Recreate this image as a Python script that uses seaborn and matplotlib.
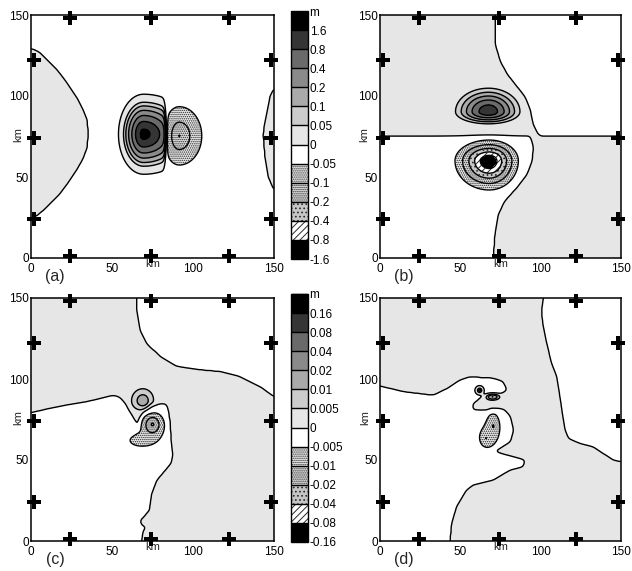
import numpy as np
import pandas as pd
import matplotlib
matplotlib.use("Agg")
import matplotlib.pyplot as plt
import seaborn as sns
from matplotlib.path import Path

# ---------------- data (km, m) ----------------
levels_top = [-1.6, -0.8, -0.4, -0.2, -0.1, -0.05, 0, 0.05, 0.1, 0.2, 0.4, 0.8, 1.6, 3.2]
labels_top = ['-1.6', '-0.8', '-0.4', '-0.2', '-0.1', '-0.05', '0', '0.05', '0.1', '0.2', '0.4', '0.8', '1.6', 'm']
levels_bot = [-0.16, -0.08, -0.04, -0.02, -0.01, -0.005, 0, 0.005, 0.01, 0.02, 0.04, 0.08, 0.16, 0.32]
labels_bot = ['-0.16', '-0.08', '-0.04', '-0.02', '-0.01', '-0.005', '0', '0.005', '0.01', '0.02', '0.04', '0.08', '0.16', 'm']

cell_colors = ['#000000', '#ffffff', '#c6c6c6', '#e0e0e0', '#ebebeb', '#ffffff',
               '#e6e6e6', '#cccccc', '#aaaaaa', '#8a8a8a', '#6a6a6a', '#353535', '#000000']
cell_hatches = [None, '/////', '....', '........', '........', None,
                None, None, None, None, None, None, None]

axis_ticks = [0, 50, 100, 150]
marker_pos = [24, 74, 122]
panel_labels = ['(a)', '(b)', '(c)', '(d)']

# background sign regions (vertices in km)
a_gray_left = [(-5, 129.4), (0, 129.4), (5.5, 127), (11.5, 121), (17.9, 114), (23, 107), (28, 99.5),
               (32, 92), (34.8, 85), (35.2, 77), (34.8, 68.6), (32, 61), (28, 54), (23, 46.5),
               (17.9, 39.8), (12.5, 34), (7.6, 29.5), (3.5, 26), (0, 24.3), (-5, 24.3)]
a_gray_right = [(155, 104.7), (150, 104.7), (147.5, 99.5), (145.5, 89), (143.6, 80), (143.4, 74.8),
                (144.4, 62.4), (146.5, 50), (150, 41.8), (155, 41.8)]
b_gray_topleft = [(-5, 155), (71.6, 155), (71.6, 132.5), (74.7, 122), (78.8, 114), (85, 106), (90, 99.5),
                  (93.4, 91), (95.4, 82.6), (98.5, 76.4), (100, 75.2), (-5, 75.2)]
b_gray_botright = [(93.4, 75.2), (155, 75.2), (155, -5), (70.5, -5), (70.5, 0), (71.6, 15), (73.7, 27.4),
                   (77.8, 35.6), (85, 44), (91.3, 52), (94.4, 60), (95.4, 68.6)]
c_white_topright = [(65.2, 155), (65.2, 142.8), (67.3, 130.4), (71.4, 122), (79.6, 114), (90, 107.8),
                    (104.3, 105.7), (116.7, 104.6), (129, 101.5), (141.4, 95.3), (150, 89.1),
                    (155, 89.1), (155, 155)]
c_white_botleft = [(-5, 79.2), (0, 79.2), (11.7, 81.9), (22, 84), (34.4, 86), (42.6, 88), (50.8, 90),
                   (55, 88.8), (59, 85), (62, 78.8), (64, 73.7), (64.6, 68.3), (66.6, 68.3), (67.5, 75),
                   (69, 80), (73.5, 84), (81.7, 85), (83.8, 84), (84.8, 78.8), (85.8, 62.3), (87.2, 53.8),
                   (86.8, 48.6), (82.7, 43.5), (77.6, 37.3), (74.5, 29), (73, 18.8), (69.3, 14.6),
                   (67.3, 12.6), (68.3, 9.7), (71.4, 8.7), (69.3, 6.6), (68.3, 0), (68.3, -5), (-5, -5)]
d_white_topright = [(101.7, 155), (101.7, 150), (100.6, 142.8), (101.2, 134.5), (103.7, 122.2),
                    (106.8, 109.8), (110, 101.5), (112, 89), (113.8, 76.7), (115.2, 68.5), (117.3, 63.3),
                    (124.5, 60.2), (132.8, 58.1), (139, 54), (145.2, 49.9), (150, 48.9), (155, 48.9),
                    (155, 155)]
d_white_botleft = [(-5, 95.7), (0, 95.7), (14.5, 92.2), (33, 90), (41.5, 94), (49.8, 99.4), (56, 101.4),
                   (70.5, 100.4), (76.6, 98.3), (78.9, 93.2), (74.7, 90.7), (62.2, 88.1), (58, 85),
                   (58, 80.9), (66.4, 79.8), (76.7, 80.9), (80.9, 76.7), (83, 68.5), (80.9, 61.3),
                   (74.7, 58.2), (70.3, 56.2), (72.6, 54.1), (83, 52), (90.2, 50), (89.2, 45.9),
                   (80.9, 43.8), (70.5, 37.7), (58, 34.6), (53.9, 31.5), (47.7, 21.2), (44.6, 10.9),
                   (43.6, 0), (43.6, -5), (-5, -5)]

# anomalies: cx, cy, half-width left, right, half-height below, above, peak, value at rim, shape
a_blobs = [(69.5, 76.4, 15.5, 31.0, 24.7, 24.7, 2.1, 0.02, 1.4),
           (91.5, 75.4, 10.0, 13.9, 18.0, 18.0, -0.19, -0.03, 1.0)]
a_front_x = 82.7
b_blobs = [(67.5, 90.3, 20.5, 19.6, 7.5, 14.5, 1.3, 0.03, 1.6),
           (68.0, 60.0, 21.3, 18.1, 18.0, 12.8, -2.5, -0.03, 1.0)]
c_blobs = [(69.0, 86.5, 7.0, 7.0, 6.5, 7.5, 0.016, 0.003, 1.3),
           (75.0, 72.0, 7.0, 7.0, 8.0, 8.0, -0.02, -0.003, 1.2),
           (67.5, 62.0, 6.0, 6.0, 3.0, 3.0, -0.006, -0.003, 1.0)]
d_blobs = [(62.0, 93.0, 3.0, 3.0, 3.0, 3.0, 0.02, 0.002, 1.0),
           (70.0, 89.0, 5.5, 5.5, 2.6, 2.6, 0.02, 0.002, 1.6),
           (70.5, 71.0, 3.6, 3.6, 7.0, 7.0, -0.008, -0.003, 1.0),
           (65.8, 63.5, 3.0, 3.0, 4.0, 4.0, -0.007, -0.003, 1.0)]
bg_amp_top = 0.02
bg_amp_bot = 0.002

# ---------------- field construction ----------------
g = np.linspace(0, 150, 301)
X, Y = np.meshgrid(g, g)
pts = np.column_stack([X.ravel(), Y.ravel()])


def smooth(a, n=5, passes=2):
    k = np.ones(n) / n
    for _ in range(passes):
        for axis in (0, 1):
            a = np.apply_along_axis(lambda v: np.convolve(np.pad(v, n // 2, mode='edge'), k, mode='valid'), axis, a)
    return a


def region_mask(polys):
    m = np.zeros(X.size, bool)
    for p in polys:
        m |= Path(p).contains_points(pts)
    return smooth(m.reshape(X.shape).astype(float))


def blob(cx, cy, axl, axr, ayb, ayt, amp, edge, p):
    ax_ = np.where(X < cx, axl, axr)
    ay_ = np.where(Y < cy, ayb, ayt)
    r = np.sqrt(((X - cx) / ax_) ** 2 + ((Y - cy) / ay_) ** 2)
    return amp * np.exp(-np.log(amp / edge) * r ** p)


Za = bg_amp_top * (2 * region_mask([a_gray_left, a_gray_right]) - 1)
S = 1 / (1 + np.exp((X - a_front_x) / 0.5))
Za = Za + blob(*a_blobs[0]) * S + blob(*a_blobs[1]) * (1 - S)

Zb = bg_amp_top * (2 * region_mask([b_gray_topleft, b_gray_botright]) - 1)
for bp in b_blobs:
    Zb = Zb + blob(*bp)

Zc = bg_amp_bot * (1 - 2 * region_mask([c_white_topright, c_white_botleft]))
for bp in c_blobs:
    Zc = Zc + blob(*bp)

Zd = bg_amp_bot * (1 - 2 * region_mask([d_white_topright, d_white_botleft]))
for bp in d_blobs:
    Zd = Zd + blob(*bp)

# ---------------- plotting ----------------
sns.set_theme(style='white')
plt.rcParams['font.family'] = ['Liberation Sans', 'DejaVu Sans']
plt.rcParams['patch.force_edgecolor'] = False
plt.rcParams['patch.edgecolor'] = '#2a2a2a'
plt.rcParams['hatch.color'] = '#2a2a2a'
plt.rcParams['hatch.linewidth'] = 0.7

W, H = 632, 571
fig = plt.figure(figsize=(W / 100, H / 100), dpi=100)


def rect(l, t, r, b):
    return [l / W, 1 - b / H, (r - l) / W, (b - t) / H]


axes_rects = [rect(31, 15, 274, 258), rect(380, 15, 621, 258),
              rect(31, 298, 274, 541), rect(380, 298, 621, 541)]
cbar_rects = [rect(291, 11, 307.5, 259), rect(291, 294, 307.5, 542)]
ylab_x = [-0.052, -0.066, -0.052, -0.06]

fields = [Za, Zb, Zc, Zd]
level_sets = [levels_top, levels_top, levels_bot, levels_bot]

markers = pd.DataFrame({
    'x': marker_pos + marker_pos + [1.8] * 3 + [148.0] * 3,
    'y': [148.0] * 3 + [1.2] * 3 + marker_pos + marker_pos,
})

for i in range(4):
    ax = fig.add_axes(axes_rects[i])
    lev = level_sets[i]
    Z = np.clip(fields[i], lev[0] * 0.995, lev[-1] * 0.99)
    cs = ax.contourf(X, Y, Z, levels=lev, colors=cell_colors, hatches=cell_hatches)
    ax.contour(X, Y, Z, levels=lev[1:-1], colors='black', linewidths=1.0,
               linestyles='solid', negative_linestyles='solid')
    sns.scatterplot(data=markers, x='x', y='y', marker='P', s=95, color='black',
                    linewidth=0, ax=ax, clip_on=False, zorder=5)
    ax.set_xlim(0, 150)
    ax.set_ylim(0, 150)
    ax.set_xticks(axis_ticks)
    ax.set_yticks(axis_ticks)
    ax.set_xlabel('')
    ax.set_ylabel('')
    ax.tick_params(length=0, labelsize=8.5, colors='black')
    ax.tick_params(axis='x', pad=3.5)
    ax.tick_params(axis='y', pad=1.5)
    for sp in ax.spines.values():
        sp.set_color('black')
        sp.set_linewidth(1.1)
    ax.text(0.5, -0.005, 'km', transform=ax.transAxes, ha='center', va='top', fontsize=8)
    ax.text(ylab_x[i], 0.51, 'km', transform=ax.transAxes, ha='center', va='center',
            rotation=90, fontsize=8)
    ax.text(0.1, -0.075, panel_labels[i], transform=ax.transAxes, ha='center', va='center',
            fontsize=11.5)
    if i in (0, 2):
        cax = fig.add_axes(cbar_rects[i // 2])
        cb = fig.colorbar(cs, cax=cax, drawedges=True)
        labs = labels_top if i == 0 else labels_bot
        cb.set_ticks(lev)
        cb.set_ticklabels(labs)
        cb.ax.tick_params(length=0, labelsize=8.5, pad=1.5, colors='black')
        cb.outline.set_edgecolor('black')
        cb.outline.set_linewidth(1.0)
        cb.dividers.set_color('black')
        cb.dividers.set_linewidth(1.0)

fig.savefig('out.png', dpi=100)
